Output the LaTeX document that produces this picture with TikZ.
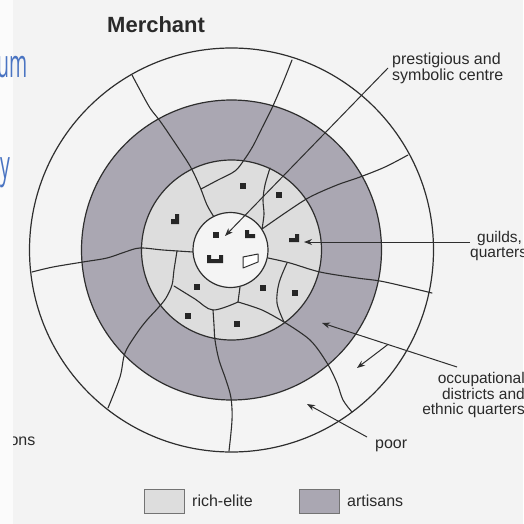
\documentclass[tikz,border=0pt]{standalone}
\usepackage{fontspec}
\setmainfont{Liberation Sans}
\newfontfamily\slidefont{Open Sans}
\usetikzlibrary{arrows.meta}
\definecolor{slidebg}{HTML}{FBFBFB}
\definecolor{scanbg}{HTML}{F3F3F3}
\definecolor{artc}{HTML}{AAA7B2}
\definecolor{richc}{HTML}{DDDDDD}
\definecolor{centc}{HTML}{F4F4F4}
\definecolor{linec}{HTML}{2E2E2E}
\definecolor{txtc}{HTML}{2A2A2A}
\definecolor{slideblue}{HTML}{4A74C2}
\begin{document}
\begin{tikzpicture}[x=1pt,y=-1pt,
  ring/.style={circle, draw=linec, line width=1.2pt, inner sep=0pt},
  cell/.style={draw=linec, line width=1.1pt, line join=round, line cap=round},
  lead/.style={draw=linec, line width=1pt, -{Stealth[length=8pt,width=6pt]}},
  lbl/.style={font=\fontsize{16}{16}\selectfont, text=txtc, inner sep=0pt},
  lblt/.style={font=\fontsize{15.5}{15.5}\selectfont, text=txtc, inner sep=0pt},
  bld/.style={fill=black!85, draw=none},
  legbox/.style={draw=black!55, line width=0.8pt, minimum width=40pt, minimum height=24pt, inner sep=0pt},
]
\useasboundingbox (0,0) rectangle (523,524);
\fill[slidebg] (0,0) rectangle (523,524);
\fill[scanbg] (13,0) rectangle (523,524);

% rings
\node[ring, fill=centc, minimum size=404pt] (outer) at (231.5,250) {};
\node[ring, fill=artc, minimum size=300pt] (middle) at (231.5,250) {};
\node[ring, fill=richc, minimum size=180pt] (rich) at (231.5,250) {};

% cell boundaries
\draw[cell] plot[smooth, tension=0.55] coordinates {(132,75) (140,90) (150,108) (160,121) (173,140) (190,166) (200,187) (207,205) (214,217)};
\draw[cell] plot[smooth, tension=0.55] coordinates {(292,60) (282,85) (272,108) (262,128) (253,146) (244,160) (235,171) (218,180) (201,189)};
\draw[cell] plot[smooth, tension=0.55] coordinates {(270,168) (265,185) (263,200) (264,214) (262,229)};
\draw[cell] plot[smooth, tension=0.55] coordinates {(408,155) (385,167) (360,177) (337,185) (310,197) (288,211) (262,229)};
\draw[cell] plot[smooth, tension=0.55] coordinates {(268,258) (290,263) (320,272) (357,278) (380,281) (407,287) (432,293)};
\draw[cell] plot[smooth, tension=0.55] coordinates {(287,263) (279,283) (277,303) (284,322)};
\draw[cell] plot[smooth, tension=0.55] coordinates {(284,322) (310,340) (327,363) (337,383) (343,400) (352,412)};
\draw[cell] plot[smooth, tension=0.55] coordinates {(238,302) (262,310) (284,322)};
\draw[cell] (240,287) -- (238,302);
\draw[cell] plot[smooth, tension=0.55] coordinates {(174,286) (195,299) (213,310) (238,302)};
\draw[cell] plot[smooth, tension=0.55] coordinates {(213,310) (214,325) (215,340) (219,360) (226,380) (231,398) (232,420) (229,451)};
\draw[cell] plot[smooth, tension=0.55] coordinates {(32,272) (53,267) (83,262) (107,258) (125,252) (140,248) (163,250) (193,252)};
\draw[cell] plot[smooth, tension=0.55] coordinates {(177,251) (174,270) (172,285) (166,298) (158,308) (147,320) (137,333) (125,353) (120,377) (108,408)};

% centre
\node[ring, fill=centc, minimum size=75pt] (centre) at (230.5,250) {};

% buildings
\foreach \p in {(243,186),(279,195),(216,235),(197,287),(263,288),(295,293),(188,316),(237,324)}
  \fill[black!85] \p ++(-2.6,-2.6) rectangle ++(5.2,5.2);
\fill[bld] (289,238) -- (295,238) -- (295,234) -- (299,234) -- (299,242) -- (289,242) -- cycle;
\fill[bld] (245,230) -- (249,230) -- (249,234) -- (255,234) -- (255,238) -- (245,238) -- cycle;
\fill[bld] (171,219) -- (175,219) -- (175,214) -- (179,214) -- (179,224) -- (171,224) -- cycle;
\fill[bld] (207,255) -- (211,255) -- (211,259) -- (219,259) -- (219,255) -- (223,255) -- (223,263) -- (207,263) -- cycle;
\draw[linec, line width=1pt, fill=white, line join=round] (243,257) -- (258,254) -- (258,262) -- (243,268) -- cycle;

% title
\node[font=\bfseries\fontsize{22}{22}\selectfont, text=txtc, anchor=base west, inner sep=0pt] (title) at (107,33) {Merchant};

% labels
\node[lbl, anchor=base west] (prest) at (392,65) {prestigious and};
\node[lbl, anchor=base west] (symb) at (392,81) {symbolic centre};
\node[lblt, align=left, anchor=west] (guild) at (470,246) {\hspace*{7pt}guilds,\\quarters};
\node[lblt, align=right, anchor=east] (occ) at (525,395) {occupational\\districts and\\ethnic quarters};
\node[lbl, anchor=base west] (poor) at (375,448) {poor};
\begin{scope}
  \clip (13,420) rectangle (80,460);
  \node[lbl, anchor=base east] (ons) at (35.5,445) {ions};
\end{scope}

% leaders
\coordinate (pS) at (388,68);
\coordinate (pT) at (225,236);
\draw[lead] (pS) -- (pT);
\coordinate (gS) at (470,242);
\coordinate (gT) at (304,242);
\draw[lead] (gS) -- (gT);
\coordinate (oS) at (457,367);
\coordinate (oT) at (322,323);
\draw[lead] (oS) -- (oT);
\coordinate (oB) at (388,344.4);
\coordinate (oT2) at (357,368);
\draw[lead] (oB) -- (oT2);
\coordinate (qS) at (367,437);
\coordinate (qT) at (307,404);
\draw[lead] (qS) -- (qT);

% legend
\node[legbox, fill=richc] (legR) at (164,501) {};
\node[lbl, anchor=base west] (legRt) at (192,506) {rich-elite};
\node[legbox, fill=artc] (legA) at (319,501.5) {};
\node[lbl, anchor=base west] (legAt) at (347,506) {artisans};

% slide text behind
\node[font=\slidefont\fontsize{39}{39}\selectfont, text=slideblue, anchor=base east, inner sep=0pt] (um) at (28,78) {\scalebox{0.5}[1]{um}};
\node[font=\slidefont\fontsize{39}{39}\selectfont, text=slideblue, anchor=base east, inner sep=0pt] (yy) at (10.5,178) {\scalebox{0.5}[1]{y}};
\end{tikzpicture}
\end{document}
